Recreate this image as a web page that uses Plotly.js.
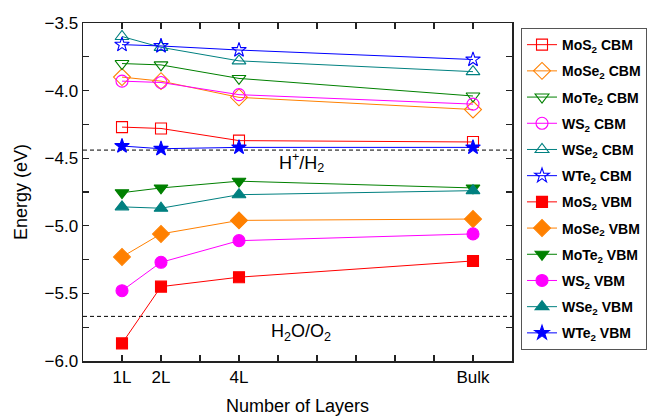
<!DOCTYPE html>
<html>
<head>
<meta charset="utf-8">
<script src="https://cdn.plot.ly/plotly-3.0.1.min.js"></script>
<style>html,body{margin:0;padding:0;background:#fff;}#chart{width:660px;height:416px;}</style>
</head>
<body>
<div id="chart"></div>
<script>
// Layer positions (x values) and labels
const layers = [1, 2, 4, 10];
const tickPositions = [1, 2, 3, 4, 5, 6, 7, 8, 9, 10];
const tickLabels = ["1L", "2L", "", "4L", "", "", "", "", "", "Bulk"];

// Conduction band minimum (eV)
const MoS2_CBM = [-4.27, -4.28, -4.37, -4.38];
const MoSe2_CBM = [-3.90, -3.93, -4.05, -4.14];
const MoTe2_CBM = [-3.80, -3.81, -3.91, -4.04];
const WS2_CBM = [-3.93, -3.94, -4.03, -4.10];
const WSe2_CBM = [-3.60, -3.68, -3.78, -3.86];
const WTe2_CBM = [-3.66, -3.67, -3.70, -3.77];

// Valence band maximum (eV)
const MoS2_VBM = [-5.87, -5.45, -5.38, -5.26];
const MoSe2_VBM = [-5.23, -5.06, -4.96, -4.95];
const MoTe2_VBM = [-4.755, -4.72, -4.67, -4.72];
const WS2_VBM = [-5.48, -5.27, -5.11, -5.06];
const WSe2_VBM = [-4.86, -4.87, -4.77, -4.74];
const WTe2_VBM = [-4.41, -4.43, -4.42, -4.42];

// Redox potentials
const H_H2 = -4.44;
const H2O_O2 = -5.67;

const colors = {MoS2:'#FF0000', MoSe2:'#FF8000', MoTe2:'#008000', WS2:'#FF00FF', WSe2:'#008080', WTe2:'#0000FF'};

const series = [
  ['MoS<sub>2</sub> CBM', MoS2_CBM, colors.MoS2, 'square-open', 11],
  ['MoSe<sub>2</sub> CBM', MoSe2_CBM, colors.MoSe2, 'diamond-open', 13],
  ['MoTe<sub>2</sub> CBM', MoTe2_CBM, colors.MoTe2, 'triangle-down-open', 12],
  ['WS<sub>2</sub> CBM', WS2_CBM, colors.WS2, 'circle-open', 12],
  ['WSe<sub>2</sub> CBM', WSe2_CBM, colors.WSe2, 'triangle-up-open', 12],
  ['WTe<sub>2</sub> CBM', WTe2_CBM, colors.WTe2, 'star-open', 11],
  ['MoS<sub>2</sub> VBM', MoS2_VBM, colors.MoS2, 'square', 11],
  ['MoSe<sub>2</sub> VBM', MoSe2_VBM, colors.MoSe2, 'diamond', 13],
  ['MoTe<sub>2</sub> VBM', MoTe2_VBM, colors.MoTe2, 'triangle-down', 12],
  ['WS<sub>2</sub> VBM', WS2_VBM, colors.WS2, 'circle', 12],
  ['WSe<sub>2</sub> VBM', WSe2_VBM, colors.WSe2, 'triangle-up', 12],
  ['WTe<sub>2</sub> VBM', WTe2_VBM, colors.WTe2, 'star', 11]
];

const traces = series.map((s, i) => ({
  x: layers, y: s[1], name: s[0], type: 'scatter', mode: 'lines+markers',
  legendgroup: 'g' + i,
  line: {color: s[2], width: 1},
  marker: {symbol: s[3], size: s[4], color: s[2], line: {color: s[2], width: 1.1}}
}));

const layout = {
  width: 660, height: 416,
  margin: {l: 83, r: 148, t: 23, b: 55},
  paper_bgcolor: '#fff', plot_bgcolor: '#fff',
  font: {family: 'Liberation Sans, Arial, sans-serif', color: '#000', size: 16},
  showlegend: true,
  legend: {
    x: 1.021, y: 0.985, xanchor: 'left', yanchor: 'top',
    bordercolor: '#555', borderwidth: 1, bgcolor: '#fff',
    font: {size: 14, weight: 'bold', family: 'Liberation Sans, Arial, sans-serif'},
    tracegroupgap: 5, itemwidth: 30
  },
  xaxis: {
    range: [0, 11], tickmode: 'array', tickvals: tickPositions, ticktext: tickLabels,
    ticks: 'inside', ticklen: 6, tickwidth: 1.2, tickcolor: '#222',
    showline: true, linecolor: '#222', linewidth: 1.5, mirror: 'allticks',
    showgrid: false, zeroline: false,
    tickfont: {size: 17},
    title: {text: 'Number of Layers', font: {size: 18}, standoff: 14}
  },
  yaxis: {
    range: [-6.0, -3.5], tickmode: 'linear', tick0: -6.0, dtick: 0.5,
    tickformat: '.1f',
    ticks: 'inside', ticklen: 6, tickwidth: 1.2, tickcolor: '#222',
    minor: {ticks: 'inside', ticklen: 6, dtick: 0.25, tick0: -6.0, tickcolor: '#222', tickwidth: 1.2},
    showline: true, linecolor: '#222', linewidth: 1.5, mirror: 'allticks',
    showgrid: false, zeroline: false,
    tickfont: {size: 17},
    title: {text: 'Energy (eV)', font: {size: 18}, standoff: 12}
  },
  shapes: [
    {type: 'line', xref: 'paper', x0: 0, x1: 1, yref: 'y', y0: H_H2, y1: H_H2, line: {color: '#000', width: 1, dash: '4px,3px'}, layer: 'below'},
    {type: 'line', xref: 'paper', x0: 0, x1: 1, yref: 'y', y0: H2O_O2, y1: H2O_O2, line: {color: '#000', width: 1, dash: '4px,3px'}, layer: 'below'}
  ],
  annotations: [
    {x: 5.6, y: -4.535, xref: 'x', yref: 'y', text: 'H<sup>+</sup>/H<sub>2</sub>', showarrow: false, font: {size: 18}},
    {x: 5.6, y: -5.79, xref: 'x', yref: 'y', text: 'H<sub>2</sub>O/O<sub>2</sub>', showarrow: false, font: {size: 18}}
  ]
};

Plotly.newPlot('chart', traces, layout, {displayModeBar: false, staticPlot: true});
</script>
</body>
</html>
